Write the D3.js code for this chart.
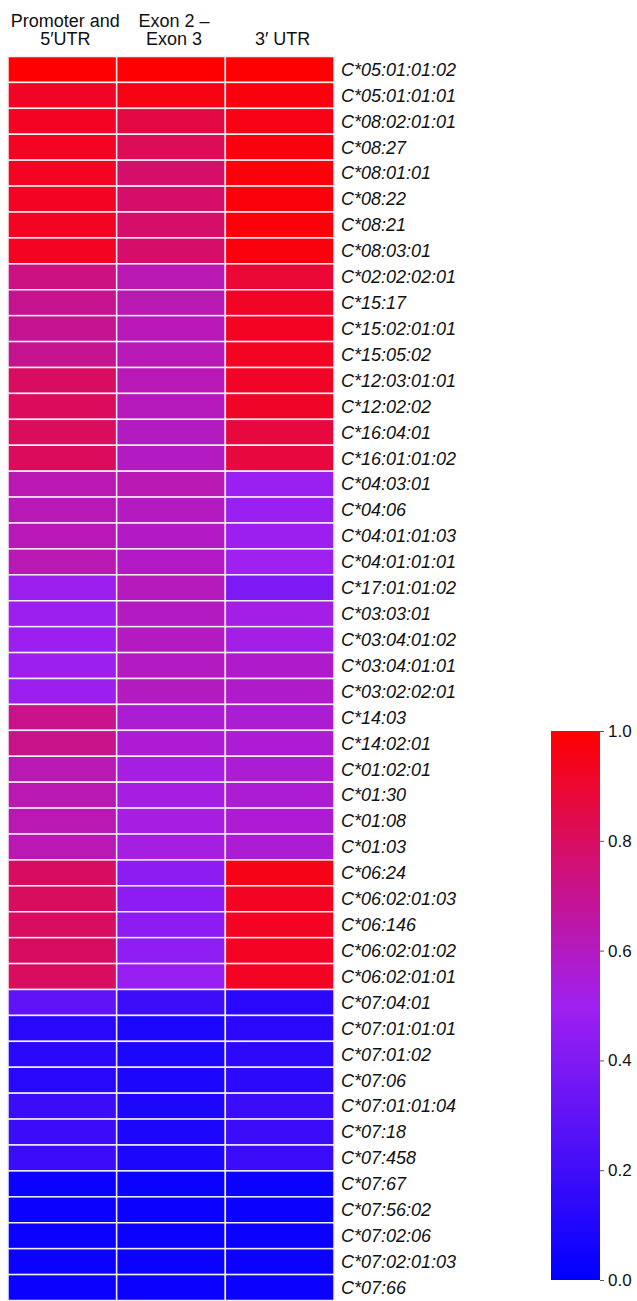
<!DOCTYPE html>
<html>
<head>
<meta charset="utf-8">
<script src="https://cdn.jsdelivr.net/npm/d3@7"></script>
<style>
  html, body { margin: 0; padding: 0; background: #fff; }
  svg { display: block; font-family: "Liberation Sans", Arial, Helvetica, sans-serif; }
</style>
</head>
<body>
<div id="chart"></div>
<script>
/* HLA-C allele heatmap, three regions, blue-purple-red ramp. */

var columns = ["promoter", "exon", "utr3"];
var columnHeaders = [["Promoter and", "5\u2032UTR"], ["Exon 2 \u2013", "Exon 3"], ["3\u2032 UTR"]];

var alleles = [
  "C*05:01:01:02", "C*05:01:01:01", "C*08:02:01:01", "C*08:27", "C*08:01:01", "C*08:22",
  "C*08:21", "C*08:03:01", "C*02:02:02:01", "C*15:17", "C*15:02:01:01", "C*15:05:02",
  "C*12:03:01:01", "C*12:02:02", "C*16:04:01", "C*16:01:01:02", "C*04:03:01", "C*04:06",
  "C*04:01:01:03", "C*04:01:01:01", "C*17:01:01:02", "C*03:03:01", "C*03:04:01:02", "C*03:04:01:01",
  "C*03:02:02:01", "C*14:03", "C*14:02:01", "C*01:02:01", "C*01:30", "C*01:08",
  "C*01:03", "C*06:24", "C*06:02:01:03", "C*06:146", "C*06:02:01:02", "C*06:02:01:01",
  "C*07:04:01", "C*07:01:01:01", "C*07:01:02", "C*07:06", "C*07:01:01:04", "C*07:18",
  "C*07:458", "C*07:67", "C*07:56:02", "C*07:02:06", "C*07:02:01:03", "C*07:66"
];

var promoterValues = [
  1.00, 0.92, 0.93, 0.93, 0.93, 0.93, 0.93, 0.93, 0.73, 0.70, 0.70, 0.70,
  0.80, 0.81, 0.81, 0.81, 0.63, 0.62, 0.62, 0.63, 0.49, 0.49, 0.49, 0.49,
  0.49, 0.71, 0.71, 0.63, 0.63, 0.63, 0.63, 0.80, 0.80, 0.80, 0.80, 0.80,
  0.30, 0.125, 0.13, 0.125, 0.18, 0.18, 0.18, 0.03, 0.03, 0.03, 0.03, 0.03
];
var exonValues = [
  1.00, 0.96, 0.86, 0.82, 0.78, 0.78, 0.78, 0.78, 0.63, 0.63, 0.62, 0.62,
  0.62, 0.61, 0.60, 0.60, 0.63, 0.60, 0.59, 0.59, 0.61, 0.60, 0.60, 0.60,
  0.60, 0.56, 0.56, 0.53, 0.53, 0.53, 0.53, 0.44, 0.44, 0.44, 0.45, 0.47,
  0.19, 0.09, 0.09, 0.09, 0.09, 0.09, 0.09, 0.03, 0.03, 0.03, 0.03, 0.03
];
var utr3Values = [
  1.00, 0.97, 0.96, 0.97, 0.98, 0.98, 0.98, 0.97, 0.89, 0.92, 0.93, 0.93,
  0.92, 0.92, 0.87, 0.87, 0.48, 0.48, 0.49, 0.50, 0.39, 0.52, 0.52, 0.58,
  0.58, 0.56, 0.56, 0.56, 0.56, 0.56, 0.56, 0.95, 0.93, 0.93, 0.93, 0.93,
  0.13, 0.13, 0.14, 0.14, 0.18, 0.18, 0.18, 0.03, 0.03, 0.03, 0.03, 0.03
];

var legendTicks = [0, 0.2, 0.4, 0.6, 0.8, 1.0];

var d3 = window.d3;
var width = 637, height = 1301;

var svg = d3.select("#chart").append("svg")
  .attr("width", width).attr("height", height)
  .attr("viewBox", "0 0 " + width + " " + height);

var color = d3.scaleLinear()
  .domain([0, 0.5, 1])
  .range(["#0000ff", "#a020f0", "#ff0000"])
  .interpolate(d3.interpolateRgb);

var x = d3.scaleBand().domain(columns).range([8, 334]);
var y = d3.scaleBand().domain(alleles).range([56.5, 1300.5]);

var seriesByColumn = { promoter: promoterValues, exon: exonValues, utr3: utr3Values };
var cells = [];
columns.forEach(function (c) {
  alleles.forEach(function (a, i) {
    cells.push({ col: c, allele: a, value: seriesByColumn[c][i] });
  });
});

svg.append("g").selectAll("rect").data(cells).enter().append("rect")
  .attr("x", function (d) { return x(d.col); })
  .attr("y", function (d) { return y(d.allele); })
  .attr("width", x.bandwidth())
  .attr("height", y.bandwidth())
  .attr("fill", function (d) { return color(d.value); })
  .attr("stroke", "#f2eef2").attr("stroke-width", 1.5);

/* Column headers, bottom-aligned */
var hdr = svg.append("g").attr("font-size", 18).attr("fill", "#111");
columns.forEach(function (c, i) {
  var lines = columnHeaders[i];
  lines.forEach(function (t, j) {
    hdr.append("text")
      .attr("x", x(c) + x.bandwidth() / 2 + 3)
      .attr("y", 45 - (lines.length - 1 - j) * 18)
      .attr("text-anchor", "middle")
      .text(t);
  });
});

/* Row labels */
svg.append("g").attr("font-size", 18).attr("font-style", "italic").attr("fill", "#111")
  .selectAll("text").data(alleles).enter().append("text")
  .attr("x", 341)
  .attr("y", function (d) { return y(d) + y.bandwidth() / 2; })
  .attr("dy", "0.35em")
  .text(function (d) { return d; });

/* Colour bar */
var defs = svg.append("defs");
var grad = defs.append("linearGradient").attr("id", "ramp")
  .attr("x1", 0).attr("y1", 1).attr("x2", 0).attr("y2", 0);
[0, 0.5, 1].forEach(function (v) {
  grad.append("stop").attr("offset", v).attr("stop-color", color(v));
});

var barY = d3.scaleLinear().domain([0, 1]).range([1280, 731]);
svg.append("rect")
  .attr("x", 551).attr("y", barY(1))
  .attr("width", 49).attr("height", barY(0) - barY(1))
  .attr("fill", "url(#ramp)");

var axis = svg.append("g").attr("transform", "translate(600,0)")
  .call(d3.axisRight(barY).tickValues(legendTicks).tickSize(4).tickPadding(4)
    .tickFormat(d3.format(".1f")));
axis.select(".domain").remove();
axis.selectAll("line").attr("stroke", "#555");
axis.selectAll("text").attr("font-size", 17).attr("fill", "#111")
  .attr("font-family", "\"Liberation Sans\", Arial, sans-serif");
</script>
</body>
</html>
